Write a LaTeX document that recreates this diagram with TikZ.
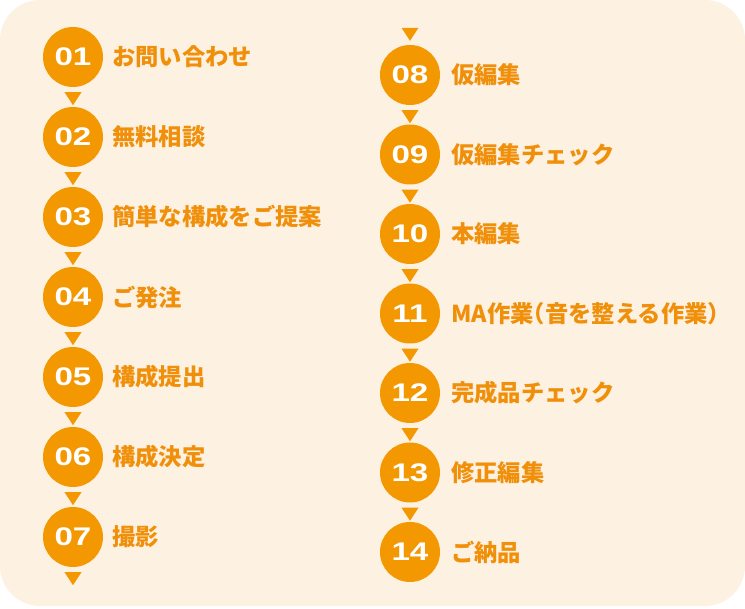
\documentclass[tikz,border=0pt]{standalone}
\usepackage{fontspec}
\newfontfamily\jpfont{Noto Sans CJK JP}
\newfontfamily\numfont{Liberation Sans}[FakeStretch=1.3]
\usetikzlibrary{calc}
\definecolor{steporange}{HTML}{F39800}
\definecolor{labelorange}{HTML}{F0900A}
\definecolor{panel}{HTML}{FDF1E2}

\begin{document}
\begin{tikzpicture}[x=1pt,y=-1pt]
\tikzstyle{every node}+=[inner sep=0pt]
\tikzstyle{stepnum}=[circle,fill=steporange,minimum size=60pt,text=white,font=\numfont\bfseries\fontsize{25.5}{25.5}\selectfont]
\tikzstyle{steplabel}=[anchor=west,text=labelorange,font=\jpfont\bfseries\fontsize{23.3}{23.3}\selectfont]
\tikzstyle{steparrow}=[fill=steporange]
\useasboundingbox (0,0) rectangle (745,609);
\fill [panel,rounded corners=40pt] (0,0) rectangle (745,606);
% left column
\node [stepnum] (s01) at (73,57) {01};
\node [steplabel] (l01) at (112,57) {お問い合わせ};
\node [stepnum] (s02) at (73,137) {02};
\node [steplabel] (l02) at (112,137) {無料相談};
\node [stepnum] (s03) at (73,217) {03};
\node [steplabel] (l03) at (112,217) {簡単な構成をご提案};
\node [stepnum] (s04) at (73,297) {04};
\node [steplabel] (l04) at (112,297) {ご発注};
\node [stepnum] (s05) at (73,377) {05};
\node [steplabel] (l05) at (112,377) {構成提出};
\node [stepnum] (s06) at (73,457) {06};
\node [steplabel] (l06) at (112,457) {構成決定};
\node [stepnum] (s07) at (73,537) {07};
\node [steplabel] (l07) at (112,537) {撮影};
% right column
\node [stepnum] (s08) at (410,75) {08};
\node [steplabel] (l08) at (451,75) {仮編集};
\node [stepnum] (s09) at (410,154.5) {09};
\node [steplabel] (l09) at (451,154.5) {仮編集チェック};
\node [stepnum] (s10) at (410,234) {10};
\node [steplabel] (l10) at (451,234) {本編集};
\node [stepnum] (s11) at (410,313.5) {11};
\node [steplabel] (l11) at (451,313.5) {\addfontfeature{RawFeature=+halt}MA作業（音を整える作業）};
\node [stepnum] (s12) at (410,393) {12};
\node [steplabel] (l12) at (451,393) {完成品チェック};
\node [stepnum] (s13) at (410,472.5) {13};
\node [steplabel] (l13) at (451,472.5) {修正編集};
\node [stepnum] (s14) at (410,552) {14};
\node [steplabel] (l14) at (451,552) {ご納品};
% arrows
\fill [steparrow] ($(s01.south)+(-8.5,5)$) -- ++(17,0) -- ++(-8.5,13) -- cycle;
\fill [steparrow] ($(s02.south)+(-8.5,5)$) -- ++(17,0) -- ++(-8.5,13) -- cycle;
\fill [steparrow] ($(s03.south)+(-8.5,5)$) -- ++(17,0) -- ++(-8.5,13) -- cycle;
\fill [steparrow] ($(s04.south)+(-8.5,5)$) -- ++(17,0) -- ++(-8.5,13) -- cycle;
\fill [steparrow] ($(s05.south)+(-8.5,5)$) -- ++(17,0) -- ++(-8.5,13) -- cycle;
\fill [steparrow] ($(s06.south)+(-8.5,5)$) -- ++(17,0) -- ++(-8.5,13) -- cycle;
\fill [steparrow] ($(s07.south)+(-8.5,5)$) -- ++(17,0) -- ++(-8.5,13) -- cycle;
\fill [steparrow] ($(s08.north)+(-8.5,-17)$) -- ++(17,0) -- ++(-8.5,13) -- cycle;
\fill [steparrow] ($(s08.south)+(-8.5,5)$) -- ++(17,0) -- ++(-8.5,13) -- cycle;
\fill [steparrow] ($(s09.south)+(-8.5,5)$) -- ++(17,0) -- ++(-8.5,13) -- cycle;
\fill [steparrow] ($(s10.south)+(-8.5,5)$) -- ++(17,0) -- ++(-8.5,13) -- cycle;
\fill [steparrow] ($(s11.south)+(-8.5,5)$) -- ++(17,0) -- ++(-8.5,13) -- cycle;
\fill [steparrow] ($(s12.south)+(-8.5,5)$) -- ++(17,0) -- ++(-8.5,13) -- cycle;
\fill [steparrow] ($(s13.south)+(-8.5,5)$) -- ++(17,0) -- ++(-8.5,13) -- cycle;
\end{tikzpicture}
\end{document}
